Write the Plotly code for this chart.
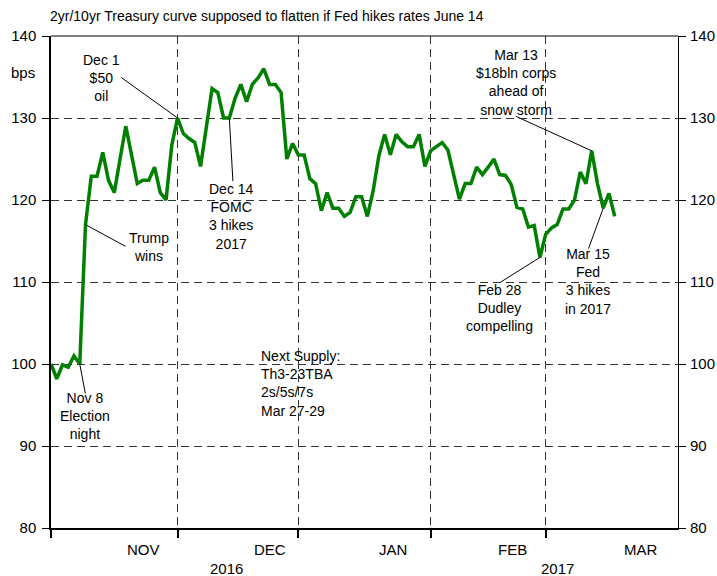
import pandas as pd
import plotly.graph_objects as go

title_text = "2yr/10yr Treasury curve supposed to flatten if Fed hikes rates June 14"
start_date = "2016-11-01"
end_date = "2017-03-17"
dates = pd.bdate_range(start_date, end_date)

spread_nov = [100, 98.2, 99.9, 99.6, 101, 100, 117, 122.9, 122.9, 125.8, 122.4,
              120.9, 125, 129, 125.5, 122, 122.4, 122.4, 124, 120.9, 120, 126.7]
spread_dec = [130, 128.1, 127.5, 127, 124.1, 129.2, 133.6, 133.1, 130, 130, 132.4,
              134.1, 132, 134.1, 134.9, 136, 134.1, 134.1, 133.1, 125, 126.9, 125.5]
spread_jan = [125.5, 122.6, 122, 118.7, 120.9, 119, 119, 118, 118.5, 120.4, 120.4,
              118, 121.1, 125.4, 128, 125.5, 128, 127.1, 126.5, 126.5, 128, 124.1]
spread_feb = [126, 126.5, 127, 126.1, 123.3, 120.1, 122, 122, 124, 123.1,
              124, 125, 123.1, 123, 121.9, 119.1, 118.9, 116.7, 116.9, 113]
spread_mar = [115.8, 116.6, 117, 118.9, 118.9, 120, 123.4, 122, 126, 122, 119, 120.8, 118]
spread = spread_nov + spread_dec + spread_jan + spread_feb + spread_mar

grid_dates = ["2016-11-01", "2016-12-01", "2016-12-30", "2017-02-01", "2017-03-01"]
month_labels = ["NOV", "DEC", "JAN", "FEB", "MAR"]
month_label_dates = ["2016-11-23", "2016-12-23", "2017-01-23 12:00", "2017-02-21 05:00", "2017-03-23 12:00"]
year_labels = ["2016", "2017"]
year_label_dates = ["2016-12-13 12:00", "2017-03-03"]
y_ticks = [80, 90, 100, 110, 120, 130, 140]

series = pd.Series(spread, index=dates)

FONT = "Liberation Sans, Arial, sans-serif"

fig = go.Figure()
fig.add_trace(go.Scatter(x=dates, y=spread, mode="lines",
                         line=dict(color="#008000", width=3.5),
                         showlegend=False, hoverinfo="skip"))
fig.add_trace(go.Scatter(x=[dates[0]], y=[None], yaxis="y2", mode="lines",
                         showlegend=False, hoverinfo="skip"))

# callouts: date, text, leader end offset (px), text centre offset (px)
callouts = [
    ("2016-12-01", "Dec 1<br>$50<br>oil", (-56.4, -40.6), (-76.1, -40.0)),
    ("2016-11-09", "Trump<br>wins", (39.9, 21.7), (63.2, 22.7)),
    ("2016-12-14", "Dec 14<br>FOMC<br>3 hikes<br>2017", (3.6, 63.2), (2.6, 98.9)),
    ("2016-11-08", "Nov 8<br>Election<br>night", (5.6, 29.6), (5.3, 51.8)),
    ("2017-03-13", "Mar 13<br>$18bln corps<br>ahead of<br>snow storm", (-75.9, -34.5), (-75.4, -68.5)),
    ("2017-02-28", "Feb 28<br>Dudley<br>compelling", (-39.4, 24.8), (-40.1, 50.4)),
    ("2017-03-15", "Mar 15<br>Fed<br>3 hikes<br>in 2017", (-14.7, 40.4), (-15.1, 73.1)),
]

shapes = [dict(type="line", xref="paper", yref="paper", x0=0, x1=1, y0=1, y1=1,
               line=dict(color="black", width=1))]
annotations = []
for d, txt, (lx, ly), (tx, ty) in callouts:
    val = float(series[pd.Timestamp(d)])
    shapes.append(dict(type="line", xref="x", yref="y",
                       xsizemode="pixel", ysizemode="pixel",
                       xanchor=d, yanchor=val, x0=0, y0=0, x1=lx, y1=-ly,
                       line=dict(color="black", width=1)))
    annotations.append(dict(x=d, y=val, xref="x", yref="y", text=txt, showarrow=False,
                            xshift=tx, yshift=-ty, xanchor="center", yanchor="middle",
                            align="center", font=dict(size=14, color="black", family=FONT)))

annotations.append(dict(x="2016-12-21 02:00", y=97.6, xref="x", yref="y",
                        text="Next Supply:<br>Th3-23TBA<br>2s/5s/7s<br>Mar 27-29",
                        showarrow=False, xanchor="left", yanchor="middle", align="left",
                        font=dict(size=14, color="black", family=FONT)))
annotations.append(dict(x=-0.045, y=135.6, xref="paper", yref="y", text="bps",
                        showarrow=False, xanchor="center", yanchor="middle",
                        font=dict(size=15, color="black", family=FONT)))
for d, lab in zip(month_label_dates, month_labels):
    annotations.append(dict(x=d, y=0, xref="x", yref="paper", text=lab, showarrow=False,
                            yshift=-21, xanchor="center", yanchor="middle",
                            font=dict(size=15, color="black", family=FONT)))
for d, lab in zip(year_label_dates, year_labels):
    annotations.append(dict(x=d, y=0, xref="x", yref="paper", text=lab, showarrow=False,
                            yshift=-40, xanchor="center", yanchor="middle",
                            font=dict(size=15, color="black", family=FONT)))

grid_style = dict(showgrid=True, gridcolor="#333333", gridwidth=1, griddash="8px,5px")

fig.update_layout(
    width=717, height=576,
    margin=dict(l=51, r=39, t=36, b=48, autoexpand=False),
    paper_bgcolor="white", plot_bgcolor="white",
    font=dict(family=FONT, size=15, color="black"),
    title=dict(text=title_text, x=50 / 717, xanchor="left", xref="container",
               y=1 - 16.5 / 576, yanchor="middle", yref="container",
               font=dict(size=14, color="black", family=FONT)),
    xaxis=dict(type="date", range=["2016-11-01", "2017-04-01"],
               rangebreaks=[dict(bounds=["sat", "mon"])],
               tickmode="array", tickvals=grid_dates, showticklabels=False,
               ticks="outside", ticklen=8, tickwidth=1.5, tickcolor="black",
               showline=True, linecolor="black", linewidth=2, zeroline=False,
               automargin=False, **grid_style),
    yaxis=dict(range=[80, 140], tickmode="array", tickvals=y_ticks,
               ticks="outside", ticklen=7, tickwidth=1, tickcolor="black",
               showline=True, linecolor="black", linewidth=1.5, zeroline=False,
               automargin=False, ticklabelstandoff=3, tickfont=dict(size=15), **grid_style),
    yaxis2=dict(range=[80, 140], tickmode="array", tickvals=y_ticks, overlaying="y",
                side="right", ticks="outside", ticklen=7, tickwidth=1, tickcolor="black",
                showline=True, linecolor="black", linewidth=1, zeroline=False,
                automargin=False, ticklabelstandoff=1, showgrid=False,
                tickfont=dict(size=15)),
    shapes=shapes,
    annotations=annotations,
    showlegend=False,
)

fig.write_html("out.html", config={"displayModeBar": False},
               post_script="document.body.style.margin='0';document.body.style.overflow='hidden';")
